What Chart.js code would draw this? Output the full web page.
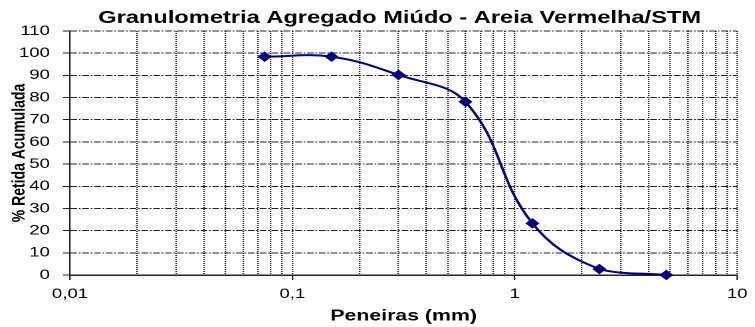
<!DOCTYPE html>
<html>
<head>
<meta charset="utf-8">
<script src="https://cdn.jsdelivr.net/npm/chart.js@4.4.1/dist/chart.umd.min.js"></script>
<style>
  html, body { margin: 0; padding: 0; background: #fff; overflow: hidden; }
  /* the original picture is stretched sideways, so the chart is drawn narrow and widened */
  #wrap { width: 568px; height: 327px; transform: scaleX(1.3292); transform-origin: 0 0; }
</style>
</head>
<body>
<div id="wrap"><canvas id="granulometria"></canvas></div>
<script>
var peneiras = [0.075, 0.15, 0.3, 0.6, 1.2, 2.4, 4.8];
var retidaAcumulada = [98.4, 98.4, 90.2, 78.1, 23.3, 2.7, 0];
var decadas = [0.01, 0.1, 1, 10];
var rotulosX = ['0,01', '0,1', '1', '10'];
var titulo = 'Granulometria Agregado Miúdo - Areia Vermelha/STM';

var fonte = '"Liberation Sans", Arial, sans-serif';
var corGrade = '#222';

function indiceDecada(v) {
    for (var d = 0; d < decadas.length; d++) {
        if (Math.abs(v / decadas[d] - 1) < 1e-9) return d;
    }
    return -1;
}

var tituloPlugin = {
    id: 'tituloCentrado',
    afterDraw: function (chart) {
        var ctx = chart.ctx;
        var a = chart.chartArea;
        ctx.save();
        ctx.font = 'bold 17.8px ' + fonte;
        ctx.fillStyle = '#000';
        ctx.textAlign = 'center';
        ctx.textBaseline = 'alphabetic';
        ctx.fillText(titulo, (a.left + a.right) / 2 - 3, 23);
        ctx.restore();
    }
};

var pontos = peneiras.map(function (p, i) { return {x: p, y: retidaAcumulada[i]}; });

var ctx = document.getElementById('granulometria').getContext('2d');
var grafico = new Chart(ctx, {
    type: 'line',
    data: {
        datasets: [{
            data: pontos,
            borderColor: '#000080',
            backgroundColor: '#000080',
            borderWidth: 2,
            tension: 0.4,
            pointStyle: 'rectRot',
            pointRadius: 4.6,
            pointBorderWidth: 1,
            clip: false
        }]
    },
    options: {
        responsive: true,
        maintainAspectRatio: false,
        animation: false,
        devicePixelRatio: 2,
        layout: { padding: { top: 31, right: 10.8, left: 0, bottom: 0 } },
        plugins: {
            legend: { display: false },
            tooltip: { enabled: false }
        },
        scales: {
            x: {
                type: 'logarithmic',
                min: 0.01,
                max: 10,
                afterBuildTicks: function (scale) {
                    var ticks = [];
                    for (var d = 0; d < decadas.length; d++) {
                        var ate = d == decadas.length - 1 ? 1 : 9;
                        for (var m = 1; m <= ate; m++) {
                            ticks.push({value: decadas[d] * m, major: m == 1});
                        }
                    }
                    scale.ticks = ticks;
                },
                afterFit: function (scale) { scale.height = 52; },
                ticks: {
                    autoSkip: false,
                    maxRotation: 0,
                    padding: 5.6,
                    color: '#000',
                    font: { family: fonte, size: 14 },
                    callback: function (value) {
                        var d = indiceDecada(value);
                        return d >= 0 ? rotulosX[d] : '';
                    }
                },
                grid: {
                    color: corGrade,
                    lineWidth: 1.15,
                    tickLength: 5,
                    tickColor: function (c) {
                        return c.tick && indiceDecada(c.tick.value) >= 0 ? corGrade : 'rgba(0,0,0,0)';
                    }
                },
                border: { color: corGrade, width: 1.5, dash: [1, 1] },
                title: {
                    display: true,
                    text: 'Peneiras (mm)',
                    color: '#000',
                    font: { family: fonte, size: 16, weight: 'bold' },
                    padding: { top: 0, bottom: 1.4 }
                }
            },
            y: {
                min: 0,
                max: 110,
                afterFit: function (scale) { scale.width = 52.66; },
                ticks: {
                    stepSize: 10,
                    padding: 9.8,
                    color: '#000',
                    font: { family: fonte, size: 14 }
                },
                grid: {
                    color: corGrade,
                    lineWidth: 1,
                    tickLength: 5.3,
                    tickColor: corGrade
                },
                border: { color: corGrade, width: 1, dash: [5, 1.3, 1.3, 1.3] },
                title: {
                    display: true,
                    text: '% Retida Acumulada',
                    color: '#000',
                    font: { family: fonte, size: 14, weight: 'bold' },
                    padding: { top: 6.3, bottom: 0 }
                }
            }
        }
    },
    plugins: [tituloPlugin]
});
</script>
</body>
</html>
